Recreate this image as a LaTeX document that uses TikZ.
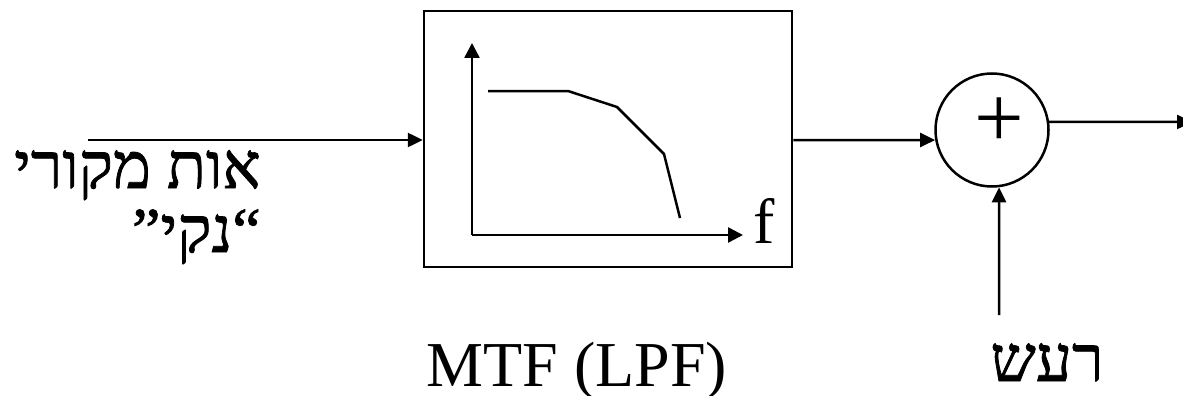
\documentclass[tikz,border=0pt]{standalone}
\usepackage{fontspec}
\setmainfont{Liberation Serif}
\newfontfamily\hebfont[Script=Hebrew,FakeBold=1.2]{Liberation Serif}
\TeXXeTstate=1
\usetikzlibrary{arrows.meta}
\begin{document}
\begin{tikzpicture}[x=1pt,y=-1pt, line width=2.5pt,
  arr/.style={-{Triangle[length=15pt,width=14pt]}},
  axarr/.style={-{Triangle[length=15pt,width=15pt]}},
  lbl/.style={inner sep=0pt, font=\fontsize{64}{64}\selectfont},
  heb/.style={inner sep=0pt, font=\hebfont\fontsize{64}{64}\selectfont}]
\useasboundingbox (0,0) rectangle (1183,396);
% blocks
\node[draw, minimum width=368pt, minimum height=256pt, inner sep=0pt] (box) at (608,139) {};
\node[draw, circle, minimum size=113pt, inner sep=0pt] (sum) at (992,130) {};
\node[inner sep=0pt, anchor=base, font=\fontsize{88}{88}\selectfont] (plus) at (999,147) {+};
% graph inside the block
\coordinate (o) at (472,235);
\coordinate (ytip) at (472,43);
\coordinate (xtip) at (743,235);
\draw[axarr] (o) -- (ytip);
\draw[axarr] (o) -- (xtip);
\draw[line join=miter] (488,91) -- (568,91) -- (617,107) -- (664,154) -- (680,218);
\node[lbl, anchor=base west] (f) at (752,243) {f};
% connectors
\coordinate (in) at (88,140);
\coordinate (out) at (1192,122);
\coordinate (nz) at (999,315);
\draw[arr] (in) -- (box.west |- in);
\draw[arr] (box.east |- in) -- (sum.190);
\draw[arr] (sum.8) -- (out);
\draw[arr] (nz) -- (sum.-83);
% labels
\node[heb, anchor=base east] (src1) at (262,188) {\beginR אות מקורי\endR};
\node[heb, anchor=base east] (src2) at (262,252) {\beginR “נקי”\endR};
\node[heb, anchor=base] (noise) at (1047,381) {\beginR רעש\endR};
\node[lbl, anchor=base] (mtf) at (577,386) {MTF (LPF)};
\end{tikzpicture}
\end{document}
